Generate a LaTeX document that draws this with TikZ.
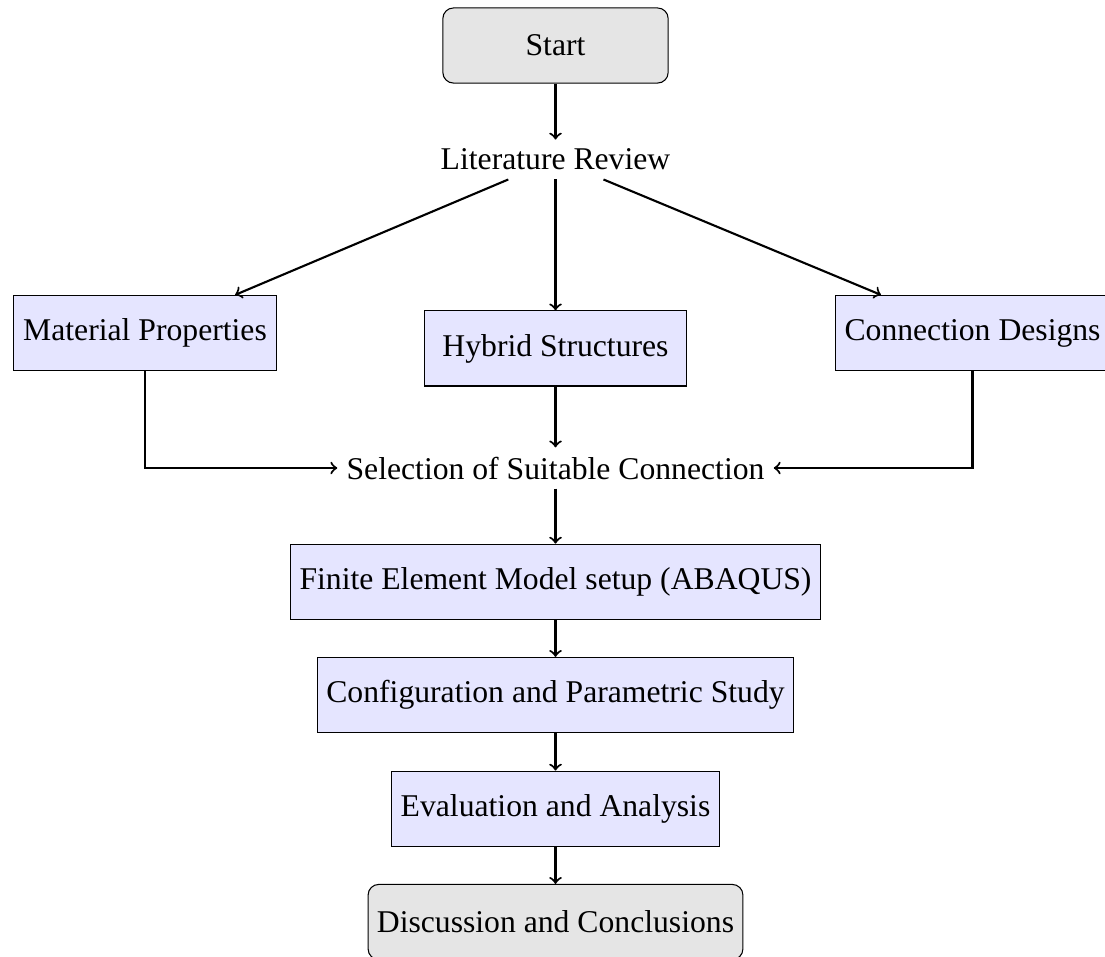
\documentclass[tikz,border=0pt]{standalone}
\usepackage{fontspec}
\setmainfont{Liberation Serif}
\usetikzlibrary{arrows}
\begin{document}
\begin{tikzpicture}[
  x=1cm,y=1cm,
  every node/.style={font=\fontsize{12}{14}\selectfont},
  startstop/.style={rectangle, rounded corners, minimum width=3cm, minimum height=1cm, text centered, draw=black, fill=gray!20},
  process/.style={rectangle, minimum width=3.5cm, minimum height=1cm, text centered, draw=black, fill=blue!10},
  plain/.style={rectangle, text centered},
  arrow/.style={thick,->}
]
\useasboundingbox (0,0) rectangle (14.714,-12.730);
\node[startstop] (start) at (7.397,-0.606) {Start};
\node[plain] (lit) at (7.397,-2.124) {Literature Review};
\node[process] (mat) at (1.931,-4.434) {Material Properties};
\node[process] (hyb) at (7.397,-4.640) {Hybrid Structures};
\node[process] (con) at (12.950,-4.434) {Connection Designs};
\node[plain] (sel) at (7.397,-6.232) {Selection of Suitable Connection};
\node[process] (fin) at (7.397,-7.746) {Finite Element Model setup (ABAQUS)};
\node[process] (conf) at (7.397,-9.254) {Configuration and Parametric Study};
\node[process] (eval) at (7.397,-10.768) {Evaluation and Analysis};
\node[startstop] (disc) at (7.397,-12.277) {Discussion and Conclusions};

\draw[arrow] (start) -- (lit);
\draw[arrow] (lit) -- (mat);
\draw[arrow] (lit) -- (hyb);
\draw[arrow] (lit) -- (con);
\draw[arrow] (mat.south) |- (sel.west);
\draw[arrow] (hyb) -- (sel);
\draw[arrow] (con.south) |- (sel.east);
\draw[arrow] (sel) -- (fin);
\draw[arrow] (fin) -- (conf);
\draw[arrow] (conf) -- (eval);
\draw[arrow] (eval) -- (disc);
\end{tikzpicture}
\end{document}
